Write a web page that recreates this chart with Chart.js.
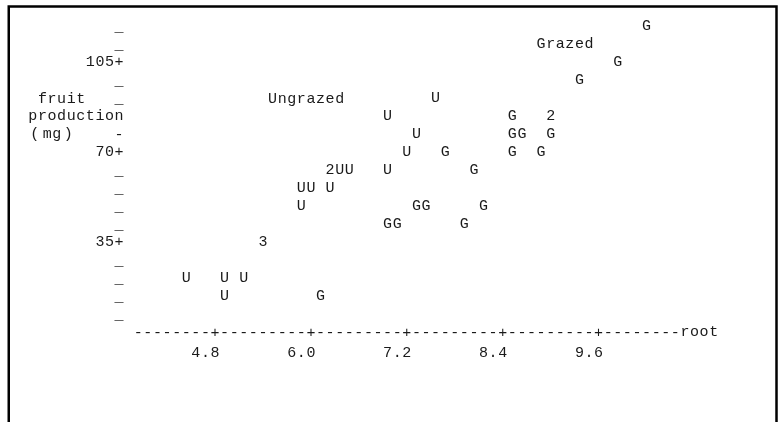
<!DOCTYPE html>
<html>
<head>
<meta charset="utf-8">
<script src="https://cdn.jsdelivr.net/npm/chart.js@4.4.1/dist/chart.umd.min.js"></script>
<style>
  html, body { margin: 0; padding: 0; background: #fff; }
  canvas { display: block; }
</style>
</head>
<body>
<canvas id="plot" width="783" height="422"></canvas>
<script>
// Fruit production against root size, by grazing treatment
const ungrazedRoot  = [7.56, 6.96, 7.32, 7.20, 6.24, 6.24, 6.36, 6.48, 6.96, 5.88,
                       6.00, 6.24, 5.88, 5.40, 5.40, 5.40, 4.44, 4.92, 5.16, 4.92];
const ungrazedFruit = [91, 84, 77, 70, 63, 63, 63, 63, 63, 56,
                       56, 56, 49, 35, 35, 35, 21, 21, 21, 14];
const grazedRoot    = [10.20, 9.84, 9.36, 8.52, 9.00, 9.00, 8.52, 8.64, 9.00, 7.68,
                       8.52, 8.88, 8.04, 7.32, 7.44, 8.16, 6.96, 7.08, 7.92, 6.12];
const grazedFruit   = [119, 105, 98, 84, 84, 84, 77, 77, 77, 70,
                       70, 70, 63, 49, 49, 49, 42, 42, 42, 14];

const seriesNames   = ['Ungrazed', 'Grazed'];
const seriesSymbols = ['U', 'G'];
const xTickValues   = [4.8, 6.0, 7.2, 8.4, 9.6];
const xTickLabels   = ['4.8', '6.0', '7.2', '8.4', '9.6'];
const yTickValues   = [35, 70, 105];
const yTickLabels   = ['35', '70', '105'];
const xAxisTitle    = 'root';
const yAxisTitle    = [' fruit', 'production', '(mg)'];

// character-cell plot grid: one column = 0.12 root units, one line = 7 mg
const X_STEP = 0.12;
const Y_STEP = 7;
const Y_ROWS = [1, 17];
const FONT = '15px "Courier New", "Liberation Mono", monospace';
const INK = '#1a1a1a';

function points(xs, ys) { return xs.map((x, i) => ({ x: x, y: ys[i] })); }

const linePrinter = {
  id: 'linePrinter',
  beforeDraw(chart) {
    const ctx = chart.ctx;
    ctx.save();
    ctx.fillStyle = '#fff';
    ctx.fillRect(0, 0, chart.width, chart.height);
    ctx.restore();
  },
  afterDatasetsDraw(chart) {
    const ctx = chart.ctx;
    const xs = chart.scales.x, ys = chart.scales.y;
    const col = c => xs.getPixelForValue(xTickValues[0] + c * X_STEP);
    const row = r => ys.getPixelForValue(r * Y_STEP);
    const put = (ch, c, r, dy) => ctx.fillText(ch, col(c), row(r) + (dy || 0));
    const putStr = (s, c, r, dy) => { for (let i = 0; i < s.length; i++) if (s[i] !== ' ') put(s[i], c + i, r, dy); };

    ctx.save();
    ctx.font = FONT;
    ctx.fillStyle = INK;
    ctx.textAlign = 'center';
    ctx.textBaseline = 'middle';

    // plotted symbols; coinciding observations show their count
    const cells = new Map();
    chart.data.datasets.forEach((ds, di) => {
      chart.getDatasetMeta(di).data.forEach(el => {
        const key = Math.round(el.x) + ',' + Math.round(el.y);
        const cell = cells.get(key) || { x: el.x, y: el.y, n: 0, sym: seriesSymbols[di] };
        cell.n += 1;
        cells.set(key, cell);
      });
    });
    cells.forEach(cell => {
      ctx.fillText(cell.n > 1 ? String(cell.n) : cell.sym, cell.x, cell.y + 1);
    });

    // series labels
    putStr(seriesNames[0], 6, 13, 2);
    putStr(seriesNames[1], 34, 16, 1);

    // horizontal axis
    const tickCols = xTickValues.map(v => Math.round((v - xTickValues[0]) / X_STEP));
    const first = tickCols[0] - 8, last = tickCols[tickCols.length - 1] + 8;
    for (let c = first; c <= last; c++) put(tickCols.includes(c) ? '+' : '-', c, 0, 2);
    putStr(xAxisTitle, last + 1, 0, 1);
    xTickLabels.forEach((t, i) => putStr(t, tickCols[i] - t.length + 1, -1, 4));

    // vertical axis
    const axisCol = -10;
    for (let r = Y_ROWS[0]; r <= Y_ROWS[1]; r++) {
      const v = r * Y_STEP;
      const k = yTickValues.indexOf(v);
      if (k >= 0) {
        put('+', axisCol, r, 1);
        putStr(yTickLabels[k], axisCol - yTickLabels[k].length, r, 1);
      } else if (r === 11) {
        put('-', axisCol, r, 2);
      } else if (r !== 12) {
        put('_', axisCol, r, 2);
      }
    }
    putStr(yAxisTitle[0], -19, 13, 2);
    putStr(yAxisTitle[1], -19, 12, 1);
    put('(', -18.8, 11, 1); put('m', -17.5, 11, 1); put('g', -16.5, 11, 1); put(')', -15.3, 11, 1);
    ctx.restore();
  },
  afterDraw(chart) {
    const ctx = chart.ctx;
    ctx.save();
    ctx.strokeStyle = '#000';
    ctx.lineWidth = 2.5;
    ctx.beginPath();
    ctx.moveTo(8.75, chart.height);
    ctx.lineTo(8.75, 6.5);
    ctx.lineTo(776.5, 6.5);
    ctx.lineTo(776.5, chart.height);
    ctx.stroke();
    ctx.restore();
  }
};

new Chart(document.getElementById('plot'), {
  type: 'scatter',
  data: {
    datasets: [
      { label: seriesNames[0], data: points(ungrazedRoot, ungrazedFruit), pointRadius: 0, pointHoverRadius: 0 },
      { label: seriesNames[1], data: points(grazedRoot, grazedFruit), pointRadius: 0, pointHoverRadius: 0 }
    ]
  },
  options: {
    responsive: false,
    animation: false,
    events: [],
    layout: { padding: { left: 119.1, right: 88.5, top: 7, bottom: 91 } },
    plugins: { legend: { display: false }, tooltip: { enabled: false } },
    scales: {
      x: { type: 'linear', min: 3.6, max: 10.8, display: false },
      y: { type: 'linear', min: 0, max: 126, display: false }
    }
  },
  plugins: [linePrinter]
});
</script>
</body>
</html>
